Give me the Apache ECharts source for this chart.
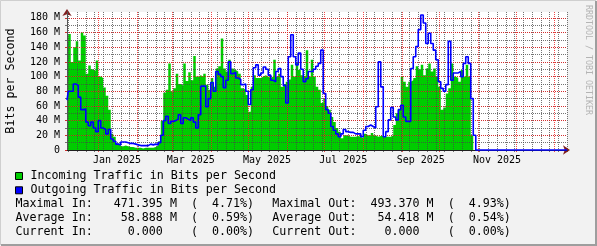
<!DOCTYPE html>
<html><head><meta charset="utf-8">
<script src="https://cdn.jsdelivr.net/npm/echarts@6/dist/echarts.min.js"></script>
<style>html,body{margin:0;padding:0;background:#f2f2f2}#c{width:597px;height:246px}</style>
</head><body><div id="c"></div>
<script>
// ---- data ----
const startDate = [2024, 11, 7];      // first day on the x axis (Dec 7 2024)
const dayCount = 401;                 // days shown (to Jan 11 2026)
const sampleStepDays = 2;             // one sample every 2 days
const monthLabels = {'2025-01':'Jan 2025','2025-03':'Mar 2025','2025-05':'May 2025','2025-07':'Jul 2025','2025-09':'Sep 2025','2025-11':'Nov 2025'};
const yMax = 188;
// Incoming traffic, M bits/s
const incoming = [100,158,120,140,148,122,160,156,104,115,110,108,122,100,98,85,74,55,22,18,
  9,8,5,6,5,4,4,3,3,3,2,3,3,3,3,4,6,12,40,78,
  82,118,80,84,104,90,88,118,94,106,95,128,100,102,100,104,
  89,82,98,86,111,114,152,111,107,123,111,109,107,104,84,82,75,52,86,102,
  98,98,100,102,100,98,100,123,100,104,86,90,93,96,116,100,120,109,102,100,
  136,100,123,100,86,82,64,70,60,55,45,38,30,25,16,
  20,20,18,18,18,19,18,16,22,20,20,23,20,18,19,19,18,18,18,20,
  34,50,55,100,93,86,93,95,98,114,110,116,102,111,118,107,111,100,86,55,
  58,77,84,118,100,98,93,109,100,116,100,20,0,0,
  0,0,0,0,0,0,0,0,0,0,0,0,0,0,0,0,0,0,0,0,0,0,0,0,0,0,0,0,0,0,0,0,0,0,0,0];
// Outgoing traffic, M bits/s
const outgoing = [68,80,80,90,88,72,55,56,38,33,38,30,25,40,30,28,22,28,15,12,
  8,7,11,11,10,9,9,8,7,6,6,6,6,8,7,8,7,10,20,40,
  46,36,39,40,42,48,36,44,42,40,44,38,30,48,87,87,
  59,70,92,80,107,103,100,85,95,120,104,106,98,96,89,90,80,62,82,112,
  116,102,105,113,110,102,95,93,107,111,100,88,64,127,157,127,116,132,110,93,
  97,107,107,110,114,118,136,77,55,50,32,27,22,18,22,
  28,25,24,24,22,22,22,18,27,32,34,32,30,59,120,86,18,25,41,58,
  45,41,55,61,45,39,39,111,127,141,164,184,173,145,159,145,136,123,93,84,
  80,89,148,95,105,105,107,100,118,127,118,70,20,0,
  0,0,0,0,0,0,0,0,0,0,0,0,0,0,0,0,0,0,0,0,0,0,0,0,0,0,0,0,0,0,0,0,0,0,0,0];
const legendNames = ['Incoming Traffic in Bits per Second','Outgoing Traffic in Bits per Second'];
const statsLeft = ['Maximal In:   471.395 M  (  4.71%)','Average In:    58.888 M  (  0.59%)','Current In:     0.000    (  0.00%)'];
const statsRight = ['Maximal Out:  493.370 M  (  4.93%)','Average Out:   54.418 M  (  0.54%)','Current Out:    0.000    (  0.00%)'];

// ---- build ----
const days = [];
const t0 = Date.UTC(startDate[0], startDate[1], startDate[2]);
for (let k = 0; k < dayCount; k++) days.push(new Date(t0 + k * 86400000).toISOString().slice(0, 10));
const isSunday = (i, v) => new Date(v + 'T00:00:00Z').getUTCDay() === 0;
const isFirst = (i, v) => v.slice(8) === '01';
const isLabel = (i, v) => v.slice(8) === '16' && monthLabels[v.slice(0, 7)] !== undefined;

const FONT = 'DejaVu Sans Mono';
const GRID = 'rgba(70,70,70,0.75)';
const MGRID = 'rgba(235,30,30,0.8)';
const ARROW = '#801f1f';
const AXIS = '#1f1f1f';
const G = {left: 67, top: 12, width: 500, height: 138};

const chart = echarts.init(document.getElementById('c'), null, {renderer: 'canvas'});
const texts = [];
const fs = 11.66;
texts.push({type:'text', style:{text:'Bits per Second', x:0, y:0, font:fs+'px "'+FONT+'"', fill:'#000', align:'center', verticalAlign:'middle'}, x:11, y:81, rotation:Math.PI/2});
texts.push({type:'text', style:{text:'RRDTOOL / TOBI OETIKER', x:0, y:0, font:'8.3px "'+FONT+'"', fill:'#b4b4b4', align:'center', verticalAlign:'middle'}, x:588, y:60, rotation:-Math.PI/2});
const cols = ['#00cc00', '#0000ff'];
legendNames.forEach((n, k) => {
  texts.push({type:'rect', shape:{x:15.5, y:172.5 + k*14.3, width:7, height:7}, style:{fill:cols[k], stroke:'#000', lineWidth:1}});
  texts.push({type:'text', style:{text:n, x:30.4, y:176 + k*14.3, font:fs+'px "'+FONT+'"', fill:'#000', verticalAlign:'middle'}});
});
statsLeft.forEach((s, k) => {
  texts.push({type:'text', style:{text:s, x:15.5, y:204 + k*14, font:fs+'px "'+FONT+'"', fill:'#000', verticalAlign:'middle'}});
  texts.push({type:'text', style:{text:statsRight[k], x:272.2, y:204 + k*14, font:fs+'px "'+FONT+'"', fill:'#000', verticalAlign:'middle'}});
});
// frame shading
texts.push({type:'polyline', shape:{points:[[0.5,245],[0.5,0.5],[596,0.5]]}, style:{stroke:'#cfcfcf', lineWidth:1}});
texts.push({type:'polyline', shape:{points:[[1,245],[596,245],[596,1]]}, style:{stroke:'#9e9e9e', lineWidth:2}});

const catAxisBase = {type:'category', data:days, boundaryGap:false, position:'bottom', gridIndex:0};
chart.setOption({
  animation: false,
  backgroundColor: '#f2f2f2',
  grid: {left:G.left, top:G.top, width:G.width, height:G.height, show:true, backgroundColor:'#fff', borderWidth:0, containLabel:false},
  xAxis: [
    {type:'value', min:0, max:dayCount-1, position:'bottom', z:4,
     axisLine:{show:true, onZero:false, lineStyle:{color:AXIS, width:1}}, axisTick:{show:false}, axisLabel:{show:false}, splitLine:{show:false}},
    Object.assign({}, catAxisBase, {z:3,
     axisLine:{show:true, onZero:false, symbol:['none','arrow'], symbolSize:[7,7], symbolOffset:[0,3], lineStyle:{color:ARROW, width:1}},
     axisTick:{show:true, interval:isSunday, length:2, lineStyle:{color:GRID}},
     axisLabel:{show:false},
     splitLine:{show:true, interval:isSunday, lineStyle:{color:GRID, width:1, type:[1,1]}}}),
    Object.assign({}, catAxisBase, {z:3,
     axisLine:{show:false, onZero:false},
     axisTick:{show:true, interval:isFirst, length:2, lineStyle:{color:MGRID}},
     axisLabel:{show:true, interval:isLabel, formatter:(v) => monthLabels[v.slice(0,7)], margin:5, fontFamily:FONT, fontSize:10, color:'#000'},
     splitLine:{show:true, interval:isFirst, lineStyle:{color:MGRID, width:1, type:[1,1]}}})
  ],
  yAxis: [
    {type:'value', min:0, max:yMax, interval:10, position:'left', z:3,
     axisLine:{show:true, onZero:false, symbol:['none','arrow'], symbolSize:[7,7], symbolOffset:[0,3], lineStyle:{color:ARROW}},
     axisTick:{show:true, length:2, lineStyle:{color:GRID}},
     axisLabel:{show:false},
     splitLine:{show:true, showMinLine:false, showMaxLine:false, lineStyle:{color:GRID, width:1, type:[1,1]}}},
    {type:'value', min:0, max:yMax, interval:20, position:'left', z:4,
     axisLine:{show:true, onZero:false, lineStyle:{color:'#555'}},
     axisTick:{show:true, length:2, lineStyle:{color:MGRID}},
     axisLabel:{show:true, showMaxLabel:false, margin:7, fontFamily:FONT, fontSize:10, color:'#000',
       formatter:(v) => v === 0 ? '0' : (v % 20 === 0 ? v + ' M' : '')},
     splitLine:{show:true, showMinLine:false, showMaxLine:false, lineStyle:{color:MGRID, width:1, type:[1,1]}}}
  ],
  series: [
    {type:'line', name:legendNames[0], xAxisIndex:0, yAxisIndex:0, z:2, step:'middle', symbol:'none', showSymbol:false,
     lineStyle:{width:0, color:'#00cc00'}, areaStyle:{color:'#00cc00', opacity:1},
     data: incoming.map((v, i) => [i * sampleStepDays, v])},
    {type:'line', name:legendNames[1], xAxisIndex:0, yAxisIndex:0, z:5, step:'middle', symbol:'none', showSymbol:false, clip:false,
     lineStyle:{width:1.6, color:'#0000ff'},
     data: outgoing.map((v, i) => [i * sampleStepDays, v])}
  ],
  graphic: texts
});
</script></body></html>
